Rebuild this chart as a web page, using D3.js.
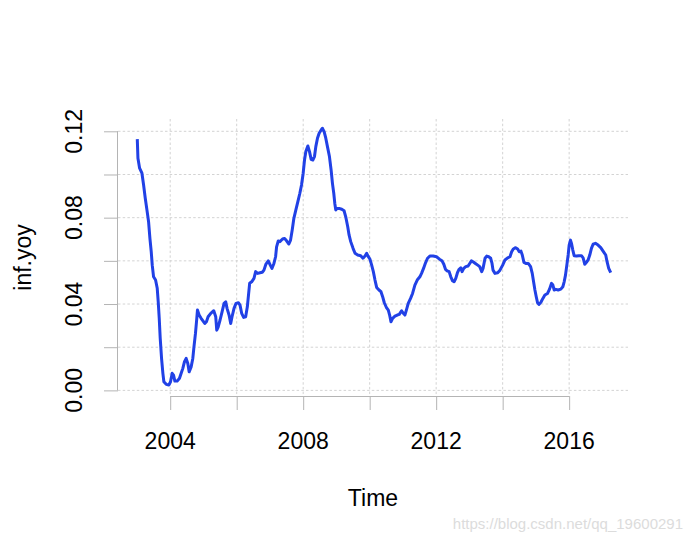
<!DOCTYPE html>
<html lang="en">
<head>
    <meta charset="UTF-8">
    <title>inf.yoy</title>
    <script src="https://d3js.org/d3.v7.min.js"></script>
    <style>
        body { margin: 0; background: #fff; }
        svg { display: block; font-family: "Liberation Sans", Arial, sans-serif; }
        .grid line { stroke: #d3d3d3; stroke-width: 1; stroke-dasharray: 2.5,2.2; }
        .axis line, .axis path { stroke: #b4b4b4; stroke-width: 1; fill: none; }
        .lab { font-size: 23px; fill: #000; }
    </style>
</head>
<body>
<svg id="chart" width="690" height="543"></svg>
<script>
// traced points (decimal year, value)
const years = [
    2003.01, 2003.03, 2003.08, 2003.15, 2003.20, 2003.25, 2003.30, 2003.35, 2003.39, 2003.43,
    2003.46, 2003.50, 2003.56, 2003.61, 2003.64, 2003.67, 2003.70, 2003.74, 2003.78, 2003.81,
    2003.88, 2003.96, 2004.01, 2004.06, 2004.10, 2004.14, 2004.21, 2004.28, 2004.33, 2004.38,
    2004.43, 2004.48, 2004.53, 2004.57, 2004.63, 2004.68, 2004.71, 2004.76, 2004.80, 2004.82,
    2004.87, 2004.93, 2005.04, 2005.09, 2005.14, 2005.22, 2005.31, 2005.37, 2005.40, 2005.44,
    2005.50, 2005.56, 2005.62, 2005.67, 2005.71, 2005.77, 2005.82, 2005.86, 2005.92, 2005.98,
    2006.05, 2006.10, 2006.15, 2006.21, 2006.27, 2006.32, 2006.36, 2006.39, 2006.45, 2006.52,
    2006.57, 2006.63, 2006.70, 2006.77, 2006.82, 2006.88, 2006.95, 2007.01, 2007.06, 2007.12,
    2007.17, 2007.20, 2007.25, 2007.30, 2007.38, 2007.44, 2007.50, 2007.57, 2007.62, 2007.67,
    2007.72, 2007.78, 2007.84, 2007.90, 2007.95, 2008.00, 2008.04, 2008.08, 2008.14, 2008.19,
    2008.24, 2008.29, 2008.34, 2008.38, 2008.43, 2008.48, 2008.54, 2008.58, 2008.63, 2008.68,
    2008.73, 2008.79, 2008.84, 2008.88, 2008.92, 2008.95, 2008.98, 2009.02, 2009.08, 2009.16,
    2009.23, 2009.28, 2009.34, 2009.38, 2009.43, 2009.50, 2009.56, 2009.64, 2009.73, 2009.80,
    2009.86, 2009.91, 2009.95, 2010.01, 2010.06, 2010.11, 2010.16, 2010.21, 2010.28, 2010.34,
    2010.39, 2010.44, 2010.50, 2010.56, 2010.60, 2010.64, 2010.69, 2010.76, 2010.83, 2010.89,
    2010.96, 2011.01, 2011.06, 2011.11, 2011.16, 2011.23, 2011.29, 2011.36, 2011.43, 2011.51,
    2011.56, 2011.62, 2011.68, 2011.74, 2011.81, 2011.91, 2012.01, 2012.11, 2012.18, 2012.23,
    2012.28, 2012.33, 2012.39, 2012.44, 2012.49, 2012.54, 2012.59, 2012.64, 2012.69, 2012.74,
    2012.78, 2012.83, 2012.89, 2012.96, 2013.01, 2013.06, 2013.11, 2013.18, 2013.25, 2013.31,
    2013.37, 2013.41, 2013.47, 2013.52, 2013.58, 2013.64, 2013.68, 2013.71, 2013.77, 2013.85,
    2013.92, 2014.00, 2014.07, 2014.15, 2014.22, 2014.27, 2014.32, 2014.39, 2014.45, 2014.50,
    2014.55, 2014.59, 2014.64, 2014.70, 2014.77, 2014.84, 2014.89, 2014.93, 2014.97, 2015.01,
    2015.05, 2015.09, 2015.15, 2015.21, 2015.27, 2015.35, 2015.41, 2015.47, 2015.51, 2015.55,
    2015.60, 2015.67, 2015.75, 2015.81, 2015.85, 2015.89, 2015.93, 2015.97, 2016.00, 2016.04,
    2016.07, 2016.11, 2016.15, 2016.22, 2016.29, 2016.37, 2016.42, 2016.47, 2016.52, 2016.57,
    2016.62, 2016.67, 2016.72, 2016.79, 2016.87, 2016.95, 2017.02, 2017.10, 2017.14, 2017.19,
    2017.25
];
const infYoy = [
    0.1164, 0.1075, 0.1029, 0.1006, 0.0951, 0.0890, 0.0836, 0.0781, 0.0704, 0.0642,
    0.0580, 0.0526, 0.0511, 0.0473, 0.0410, 0.0334, 0.0241, 0.0148, 0.0079, 0.0040,
    0.0028, 0.0025, 0.0040, 0.0079, 0.0071, 0.0043, 0.0043, 0.0056, 0.0079, 0.0102,
    0.0133, 0.0148, 0.0125, 0.0086, 0.0109, 0.0148, 0.0195, 0.0264, 0.0334, 0.0372,
    0.0349, 0.0334, 0.0310, 0.0318, 0.0341, 0.0357, 0.0369, 0.0341, 0.0279, 0.0292,
    0.0326, 0.0364, 0.0403, 0.0410, 0.0380, 0.0349, 0.0310, 0.0341, 0.0380, 0.0403,
    0.0406, 0.0395, 0.0357, 0.0338, 0.0341, 0.0387, 0.0449, 0.0496, 0.0503, 0.0519,
    0.0550, 0.0542, 0.0545, 0.0547, 0.0557, 0.0585, 0.0600, 0.0580, 0.0565, 0.0588,
    0.0619, 0.0665, 0.0692, 0.0689, 0.0701, 0.0704, 0.0693, 0.0678, 0.0696, 0.0743,
    0.0797, 0.0836, 0.0874, 0.0913, 0.0951, 0.1006, 0.1067, 0.1106, 0.1132, 0.1106,
    0.1070, 0.1067, 0.1083, 0.1129, 0.1168, 0.1191, 0.1206, 0.1214, 0.1198, 0.1168,
    0.1129, 0.1083, 0.1021, 0.0959, 0.0913, 0.0867, 0.0836, 0.0843, 0.0843, 0.0839,
    0.0832, 0.0804, 0.0758, 0.0720, 0.0689, 0.0658, 0.0635, 0.0627, 0.0624, 0.0612,
    0.0622, 0.0635, 0.0622, 0.0607, 0.0580, 0.0550, 0.0511, 0.0477, 0.0465, 0.0457,
    0.0434, 0.0406, 0.0385, 0.0372, 0.0349, 0.0318, 0.0334, 0.0344, 0.0349, 0.0352,
    0.0369, 0.0357, 0.0349, 0.0375, 0.0403, 0.0426, 0.0449, 0.0488, 0.0511, 0.0526,
    0.0542, 0.0565, 0.0591, 0.0612, 0.0622, 0.0622, 0.0619, 0.0607, 0.0599, 0.0584,
    0.0561, 0.0554, 0.0550, 0.0526, 0.0508, 0.0503, 0.0519, 0.0545, 0.0561, 0.0568,
    0.0550, 0.0565, 0.0573, 0.0576, 0.0588, 0.0600, 0.0596, 0.0588, 0.0580, 0.0573,
    0.0550, 0.0565, 0.0612, 0.0622, 0.0619, 0.0612, 0.0588, 0.0557, 0.0542, 0.0545,
    0.0557, 0.0580, 0.0604, 0.0614, 0.0619, 0.0642, 0.0655, 0.0661, 0.0655, 0.0642,
    0.0645, 0.0627, 0.0593, 0.0588, 0.0588, 0.0573, 0.0542, 0.0503, 0.0465, 0.0434,
    0.0406, 0.0398, 0.0408, 0.0426, 0.0442, 0.0449, 0.0469, 0.0496, 0.0488, 0.0465,
    0.0468, 0.0465, 0.0469, 0.0480, 0.0503, 0.0534, 0.0580, 0.0627, 0.0673, 0.0696,
    0.0681, 0.0650, 0.0624, 0.0622, 0.0624, 0.0624, 0.0614, 0.0584, 0.0593, 0.0604,
    0.0627, 0.0658, 0.0677, 0.0681, 0.0673, 0.0661, 0.0645, 0.0627, 0.0596, 0.0565,
    0.0545
];
const xTicks = [2004, 2006, 2008, 2010, 2012, 2014, 2016];
const xLabels = [2004, 2008, 2012, 2016];
const yTicks = [0, 0.02, 0.04, 0.06, 0.08, 0.10, 0.12];
const yLabels = [0, 0.04, 0.08, 0.12];

const svg = d3.select("#chart"),
      margin = { top: 119, right: 62, bottom: 147, left: 118 },
      width = +svg.attr("width") - margin.left - margin.right,
      height = +svg.attr("height") - margin.top - margin.bottom;

const x = d3.scaleLinear().domain([2002.43, 2017.77]).range([0, width]);
const y = d3.scaleLinear().domain([-0.0026, 0.1257]).range([height, 0]);

const g = svg.append("g").attr("transform", `translate(${margin.left},${margin.top})`);

// dotted grid
const grid = g.append("g").attr("class", "grid");
grid.selectAll(".gx").data(xTicks).enter().append("line")
    .attr("x1", d => x(d)).attr("x2", d => x(d))
    .attr("y1", 0).attr("y2", height);
grid.selectAll(".gy").data(yTicks).enter().append("line")
    .attr("x1", 0).attr("x2", width)
    .attr("y1", d => y(d)).attr("y2", d => y(d));

// axes: ticks from d3, axis line only between first and last tick (like R)
const xAxis = d3.axisBottom(x).tickValues(xTicks).tickSize(14).tickFormat("");
const yAxis = d3.axisLeft(y).tickValues(yTicks).tickSize(14).tickFormat("");
const gx = g.append("g").attr("class", "axis").attr("transform", `translate(0,${height})`).call(xAxis);
const gy = g.append("g").attr("class", "axis").call(yAxis);
gx.select(".domain").remove();
gy.select(".domain").remove();
gx.append("line")
    .attr("x1", x(d3.min(xTicks))).attr("x2", x(d3.max(xTicks)))
    .attr("y1", 0.5).attr("y2", 0.5);
gy.append("line")
    .attr("x1", -0.5).attr("x2", -0.5)
    .attr("y1", y(d3.min(yTicks))).attr("y2", y(d3.max(yTicks)));

g.selectAll(".xl").data(xLabels).enter().append("text")
    .attr("class", "lab")
    .attr("x", d => x(d)).attr("y", height + 52.5)
    .attr("text-anchor", "middle")
    .text(d => d);

g.selectAll(".yl").data(yLabels).enter().append("text")
    .attr("class", "lab")
    .attr("transform", d => `translate(-36,${y(d)}) rotate(-90)`)
    .attr("text-anchor", "middle")
    .text(d => d.toFixed(2));

// series
const line = d3.line().x((d, i) => x(years[i])).y(d => y(d));
g.append("path")
    .datum(infYoy)
    .attr("d", line)
    .attr("fill", "none")
    .attr("stroke", "#2141e6")
    .attr("stroke-width", 3)
    .attr("stroke-linejoin", "round");

// axis titles
svg.append("text").attr("class", "lab")
    .attr("x", margin.left + width / 2).attr("y", 506)
    .attr("text-anchor", "middle")
    .text("Time");
svg.append("text").attr("class", "lab")
    .attr("transform", `translate(31,${margin.top + height / 2}) rotate(-90)`)
    .attr("text-anchor", "middle")
    .text("inf.yoy");

// watermark
svg.append("text")
    .attr("x", 683).attr("y", 529)
    .attr("text-anchor", "end")
    .style("font-size", "15px")
    .style("fill", "#dcdcdc")
    .text("https://blog.csdn.net/qq_19600291");
</script>
</body>
</html>
